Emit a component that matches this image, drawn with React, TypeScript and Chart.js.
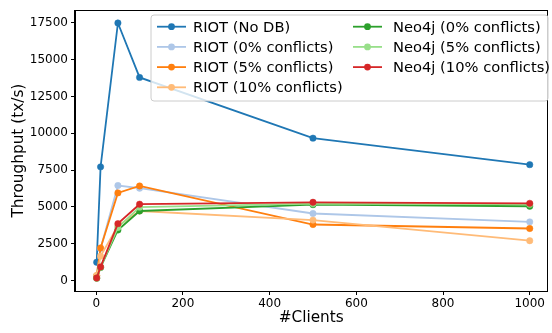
import React, { useEffect, useRef } from 'react';
import { Chart, registerables } from 'chart.js';

Chart.register(...registerables);

const clients = [1, 10, 50, 100, 500, 1000];
const riotNoDb = [1230, 7720, 17500, 13800, 9670, 7870];
const riot0 = [300, 2150, 6450, 6270, 4550, 3980];
const riot5 = [320, 2210, 5950, 6420, 3800, 3530];
const riot10 = [340, 1650, 3700, 4720, 4100, 2700];
const neo0 = [150, 880, 3430, 4720, 5150, 5040];
const neo5 = [150, 900, 3600, 4980, 5220, 5170];
const neo10 = [160, 920, 3860, 5180, 5310, 5240];

const seriesLabels = [
  'RIOT (No DB)',
  'RIOT (0% conflicts)',
  'RIOT (5% conflicts)',
  'RIOT (10% conflicts)',
  'Neo4j (0% conflicts)',
  'Neo4j (5% conflicts)',
  'Neo4j (10% conflicts)',
];
const seriesValues = [riotNoDb, riot0, riot5, riot10, neo0, neo5, neo10];
const seriesColors = ['#1f77b4', '#aec7e8', '#ff7f0e', '#ffbb78', '#2ca02c', '#98df8a', '#d62728'];

const xTicks = [0, 200, 400, 600, 800, 1000];
const yTicks = [0, 2500, 5000, 7500, 10000, 12500, 15000, 17500];

const FONT = 'DejaVu Sans';

const frameAndLegend = {
  id: 'frameAndLegend',
  afterDraw(chart: any) {
    const { ctx, chartArea } = chart;
    ctx.save();
    ctx.strokeStyle = '#000';
    ctx.lineWidth = 1;
    ctx.strokeRect(
      Math.round(chartArea.left) - 0.5,
      Math.round(chartArea.top) + 0.5,
      Math.round(chartArea.right - chartArea.left),
      Math.round(chartArea.bottom - chartArea.top)
    );

    // legend box
    const bx = 151, by = 15, bw = 397, bh = 86, r = 3;
    ctx.beginPath();
    ctx.moveTo(bx + r, by);
    ctx.lineTo(bx + bw - r, by);
    ctx.quadraticCurveTo(bx + bw, by, bx + bw, by + r);
    ctx.lineTo(bx + bw, by + bh - r);
    ctx.quadraticCurveTo(bx + bw, by + bh, bx + bw - r, by + bh);
    ctx.lineTo(bx + r, by + bh);
    ctx.quadraticCurveTo(bx, by + bh, bx, by + bh - r);
    ctx.lineTo(bx, by + r);
    ctx.quadraticCurveTo(bx, by, bx + r, by);
    ctx.closePath();
    ctx.fillStyle = 'rgba(255,255,255,0.8)';
    ctx.fill();
    ctx.strokeStyle = '#cccccc';
    ctx.lineWidth = 1;
    ctx.stroke();

    const ds = chart.data.datasets;
    ctx.font = `14.7px "${FONT}"`;
    ctx.textBaseline = 'middle';
    ctx.textAlign = 'left';
    ds.forEach((d: any, i: number) => {
      const col = i < 4 ? 0 : 1;
      const row = i < 4 ? i : i - 4;
      const hx = col === 0 ? 157 : 353;
      const tx = col === 0 ? 193 : 393;
      const y = 26.7 + row * 20.2;
      ctx.strokeStyle = d.borderColor;
      ctx.lineWidth = 1.8;
      ctx.beginPath();
      ctx.moveTo(hx, y);
      ctx.lineTo(hx + 29, y);
      ctx.stroke();
      ctx.fillStyle = d.borderColor;
      ctx.beginPath();
      ctx.arc(hx + 14.5, y, 3.4, 0, Math.PI * 2);
      ctx.fill();
      ctx.fillStyle = '#000';
      ctx.fillText(d.label, tx, y + 1);
    });
    ctx.restore();
  },
};

export default function App() {
  const ref = useRef<HTMLCanvasElement | null>(null);
  useEffect(() => {
    if (!ref.current) return;
    const datasets = seriesLabels.map((label, i) => ({
      label,
      data: clients.map((c, j) => ({ x: c, y: seriesValues[i][j] })),
      borderColor: seriesColors[i],
      backgroundColor: seriesColors[i],
      borderWidth: 1.8,
      pointRadius: 3.2,
      pointBorderWidth: 0.5,
      pointBackgroundColor: seriesColors[i],
      pointBorderColor: seriesColors[i],
      tension: 0,
      order: seriesLabels.length - i,
    }));
    const chart = new Chart(ref.current, {
      type: 'line',
      data: { datasets },
      options: {
        animation: false,
        responsive: false,
        devicePixelRatio: 1,
        layout: { padding: { top: 7, right: 1, left: 0, bottom: 0 } },
        plugins: { legend: { display: false }, tooltip: { enabled: false } },
        scales: {
          x: {
            type: 'linear',
            min: -49,
            max: 1041,
            afterBuildTicks: (s: any) => {
              s.ticks = xTicks.map((v) => ({ value: v }));
            },
            afterFit: (s: any) => {
              s.height = 42;
            },
            grid: { drawOnChartArea: false, drawTicks: true, tickLength: 4, color: '#000', lineWidth: 1 },
            border: { display: true, color: '#000', width: 1 },
            ticks: {
              color: '#000',
              font: { family: FONT, size: 12 },
              padding: 2,
              maxRotation: 0,
              autoSkip: false,
              callback: (v: any) => String(v),
            },
            title: {
              display: true,
              text: '#Clients',
              color: '#000',
              font: { family: FONT, size: 15.3 },
              padding: { top: 0, bottom: 5.8 },
            },
          },
          y: {
            type: 'linear',
            min: -720,
            max: 18370,
            afterBuildTicks: (s: any) => {
              s.ticks = yTicks.map((v) => ({ value: v }));
            },
            afterFit: (s: any) => {
              s.width = 75;
            },
            grid: { drawOnChartArea: false, drawTicks: true, tickLength: 4, color: '#000', lineWidth: 1 },
            border: { display: true, color: '#000', width: 1 },
            ticks: {
              color: '#000',
              font: { family: FONT, size: 12 },
              padding: 3,
              autoSkip: false,
              callback: (v: any) => String(v),
            },
            title: {
              display: true,
              text: 'Throughput (tx/s)',
              color: '#000',
              font: { family: FONT, size: 15.3 },
              padding: { top: 9.5, bottom: 0 },
            },
          },
        },
      },
      plugins: [frameAndLegend],
    });
    return () => chart.destroy();
  }, []);
  return (
    <div style={{ position: 'fixed', left: 0, top: 0, width: 552, height: 333, background: '#fff' }}>
      <canvas ref={ref} width={552} height={333} style={{ display: 'block', width: 552, height: 333 }} />
    </div>
  );
}
